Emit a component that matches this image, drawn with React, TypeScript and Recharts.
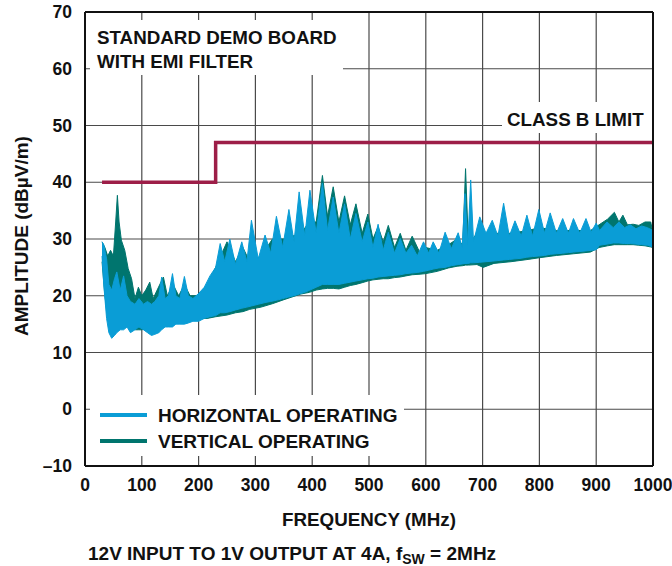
import React from "react";
import { ComposedChart, Area, Line, XAxis, YAxis, CartesianGrid, ReferenceLine } from "recharts";

const BLUE = "#0a9dd6";
const TEAL = "#00756e";
const CRIMSON = "#9d1e48";
const GRID = "#4a4a4a";
const FONT = "'Liberation Sans', Arial, sans-serif";

// horizontal operating (MHz, low dB, high dB)
const H_FREQ = [30, 33, 38, 42, 47, 52, 56, 62, 68, 74, 80, 88, 95, 103, 110, 117, 123, 130, 135, 141, 147, 154, 160, 167, 175, 182, 190, 200, 210, 220, 230, 238, 246, 255, 265, 276, 285, 293, 305, 317, 327, 337, 348, 359, 368, 377, 387, 396, 407, 418, 427, 437, 447, 457, 467, 477, 488, 498, 507, 516, 525, 534, 545, 555, 565, 575, 585, 596, 605, 613, 623, 634, 645, 657, 664, 669, 674, 679, 684, 695, 706, 717, 727, 737, 747, 757, 768, 778, 788, 799, 809, 819, 830, 841, 851, 860, 871, 882, 891, 900, 906, 919, 930, 940, 950, 960, 970, 980, 990, 1000];
const H_LO = [27, 22, 16, 13.5, 12.5, 13, 13.5, 14, 14, 14.5, 13.5, 14, 14.5, 14, 13.5, 13, 13.2, 13.5, 14, 14.5, 14.5, 14.5, 15, 15, 15, 15.2, 15.5, 15.5, 16, 16.3, 16.5, 17, 17, 17.2, 17.5, 17.8, 18, 18.2, 18.5, 18.8, 19, 19.2, 19.5, 19.8, 20, 20.3, 20.6, 21, 21.5, 22, 22, 22, 22, 22.2, 22.4, 22.6, 22.8, 23, 23.1, 23.3, 23.4, 23.5, 23.6, 23.7, 23.9, 24, 24.1, 24.3, 24.5, 24.7, 24.9, 25, 25.3, 25.5, 25.6, 25.7, 25.7, 25.8, 25.8, 25.9, 26, 26.1, 26.2, 26.3, 26.4, 26.5, 26.6, 26.8, 26.9, 27, 27.1, 27.3, 27.4, 27.5, 27.6, 27.7, 27.8, 27.9, 28, 28.1, 28.9, 29.1, 29.3, 29.3, 29.2, 29.2, 29.1, 29, 28.9, 28.6];
const H_HI = [29.5, 29, 26.5, 22, 21, 23, 24.2, 21, 23.5, 20, 19, 18.5, 19.5, 18.5, 19, 18.5, 19, 20, 23.3, 19.5, 20, 23.9, 20, 19.5, 23.4, 20, 19.5, 20.4, 21.5, 23.5, 25, 29.2, 26, 30, 25.5, 29.5, 26, 33.3, 26.5, 30.7, 27.5, 34, 28.5, 35.2, 29.5, 38.3, 30.5, 38.6, 31, 39.8, 31.5, 37.4, 31, 36.2, 30, 34.5, 29.5, 33, 28.5, 32.6, 28, 31.2, 27.5, 30.1, 27.5, 28.9, 27, 29.5, 27.5, 29.5, 27.5, 31.2, 28.3, 31.1, 28.5, 38, 29, 40.4, 29.5, 33.9, 31, 33.3, 30.5, 36.3, 30.5, 33.2, 30.5, 34.2, 30.5, 35.2, 31, 34.6, 31, 33.6, 31, 33.6, 31, 33.6, 31.2, 32.8, 31.5, 33, 32, 33, 32, 32.5, 31.8, 32.3, 32, 31.5];

// vertical operating (MHz, low dB, high dB)
const V_FREQ = [30, 35, 40, 45, 50, 54, 57, 60, 64, 70, 76, 82, 88, 94, 100, 107, 114, 120, 127, 138, 145, 155, 165, 175, 185, 200, 215, 230, 250, 265, 278, 290, 310, 330, 350, 380, 395, 407, 418, 427, 437, 447, 457, 467, 477, 488, 498, 507, 516, 525, 534, 545, 555, 565, 576, 590, 600, 620, 640, 655, 665, 670, 675, 690, 701, 720, 750, 780, 800, 830, 860, 890, 905, 920, 932, 940, 947, 955, 965, 975, 986, 996, 1000];
const V_LO = [26, 20, 16, 14.5, 15, 15.5, 16, 16, 16, 15.5, 15, 14.5, 14, 14, 14, 14.2, 14.3, 14.5, 14.5, 15, 15, 15.2, 15.2, 15.4, 15.5, 16, 16, 16.3, 16.6, 17, 17.2, 17.6, 18, 18.6, 19.3, 20.3, 20.6, 21, 21.2, 21.3, 21.3, 21.2, 21.5, 21.8, 22, 22.3, 22.6, 22.8, 22.9, 23, 23, 23.2, 23.3, 23.5, 23.7, 23.8, 23.9, 24.3, 24.9, 25.2, 25.3, 25.4, 25.4, 25.5, 25, 25.7, 26, 26.4, 26.7, 27.1, 27.4, 27.7, 28.5, 28.8, 29, 29, 29, 29, 29, 28.9, 28.8, 28.6, 28.5];
const V_HI = [29.5, 28.5, 27, 28, 27, 33, 37.7, 33, 29.8, 28, 24.8, 23, 19.5, 21.5, 20, 21, 22.4, 19.5, 21, 23.3, 20, 22, 20, 22, 20, 20, 22, 25, 29.5, 26, 28.5, 26, 27, 30, 30, 31, 33, 33, 41.2, 34, 39.2, 33, 37.6, 32.5, 36.2, 31, 34.4, 30, 32.2, 29.5, 32.4, 28.5, 31, 28, 30.5, 27.5, 28.5, 28, 29, 30, 29, 42.4, 29, 31, 31, 31, 31, 31.5, 32, 31.5, 31.5, 31.5, 32.5, 33.5, 34.7, 33, 34.2, 32.5, 32.6, 32.4, 33, 33, 31];

// class B limit
const LIMIT_FREQ = [30, 230, 230, 1000];
const LIMIT_DB = [40, 40, 47, 47];

const X_TICKS = [0, 100, 200, 300, 400, 500, 600, 700, 800, 900, 1000];
const Y_TICKS = [-10, 0, 10, 20, 30, 40, 50, 60, 70];

const hData = H_FREQ.map((f, i) => ({ f, r: [H_LO[i], H_HI[i]] }));
const vData = V_FREQ.map((f, i) => ({ f, r: [V_LO[i], V_HI[i]] }));
const limitData = LIMIT_FREQ.map((f, i) => ({ f, v: LIMIT_DB[i] }));

const yFmt = (v: number) => (v < 0 ? `\u2013${Math.abs(v)}` : `${v}`);

const tickStyle = { fill: "#111", fontSize: 17.5, fontWeight: 700, fontFamily: FONT };

function TextAt({ x, y, size = 18.8, children }: { x: number; y: number; size?: number; children: React.ReactNode }) {
  // y is the centre of the capitals
  return (
    <div style={{ position: "absolute", left: x, top: y - size * 0.49, fontSize: size, lineHeight: 1, whiteSpace: "nowrap" }}>
      {children}
    </div>
  );
}

export default function App() {
  return (
    <div style={{ position: "fixed", left: 0, top: 0, width: 672, height: 566, background: "#fff", fontFamily: FONT, fontWeight: 700, color: "#111", overflow: "hidden" }}>
      <ComposedChart width={672} height={566} margin={{ top: 12, right: 19, left: 0, bottom: 0 }}>
        <CartesianGrid stroke={GRID} strokeWidth={1.2} fill="none" />
        <XAxis
          dataKey="f"
          type="number"
          domain={[0, 1000]}
          ticks={X_TICKS}
          allowDataOverflow
          height={100}
          tickSize={0}
          tickMargin={13}
          tick={tickStyle}
          axisLine={{ stroke: "#111", strokeWidth: 2 }}
        />
        <YAxis
          type="number"
          domain={[-10, 70]}
          ticks={Y_TICKS}
          allowDataOverflow
          width={85}
          tickSize={0}
          tickMargin={13}
          tick={tickStyle}
          tickFormatter={yFmt}
          axisLine={{ stroke: "#111", strokeWidth: 2 }}
        />
        <Area data={vData} dataKey="r" type="linear" fill={TEAL} fillOpacity={1} stroke={TEAL} strokeWidth={1} isAnimationActive={false} dot={false} activeDot={false} />
        <Area data={hData} dataKey="r" type="linear" fill={BLUE} fillOpacity={1} stroke={BLUE} strokeWidth={1} isAnimationActive={false} dot={false} activeDot={false} />
        <Line data={limitData} dataKey="v" type="linear" stroke={CRIMSON} strokeWidth={3.5} dot={false} activeDot={false} isAnimationActive={false} />
        <ReferenceLine y={70} stroke="#111" strokeWidth={2} />
        <ReferenceLine x={1000} stroke="#111" strokeWidth={2} />
      </ComposedChart>

      {/* annotation boxes hide the grid behind them */}
      <div style={{ position: "absolute", left: 90, top: 20, width: 253, height: 55, background: "#fff" }} />
      <TextAt x={97} y={38.5}>STANDARD DEMO BOARD</TextAt>
      <TextAt x={97} y={62.7}>WITH EMI FILTER</TextAt>

      <div style={{ position: "absolute", left: 502, top: 102, width: 150, height: 31, background: "#fff" }} />
      <TextAt x={507} y={120.7}>CLASS B LIMIT</TextAt>

      <div style={{ position: "absolute", left: 90, top: 395, width: 314, height: 61, background: "#fff" }} />
      <div style={{ position: "absolute", left: 100, top: 413, width: 47, height: 4, background: BLUE }} />
      <div style={{ position: "absolute", left: 100, top: 439, width: 47, height: 4, background: TEAL }} />
      <TextAt x={158} y={415} size={19}>HORIZONTAL OPERATING</TextAt>
      <TextAt x={158} y={441} size={19}>VERTICAL OPERATING</TextAt>

      <TextAt x={282} y={520}>FREQUENCY (MHz)</TextAt>
      <TextAt x={88} y={553} size={19}>
        12V INPUT TO 1V OUTPUT AT 4A, f<sub style={{ fontSize: 14, verticalAlign: "-0.25em" }}>SW</sub> = 2MHz
      </TextAt>

      <div
        style={{
          position: "absolute",
          left: 21,
          top: 236,
          transform: "translate(-50%, -50%) rotate(-90deg)",
          fontSize: 19,
          lineHeight: 1,
          whiteSpace: "nowrap",
        }}
      >
        AMPLITUDE (dBµV/m)
      </div>
    </div>
  );
}
